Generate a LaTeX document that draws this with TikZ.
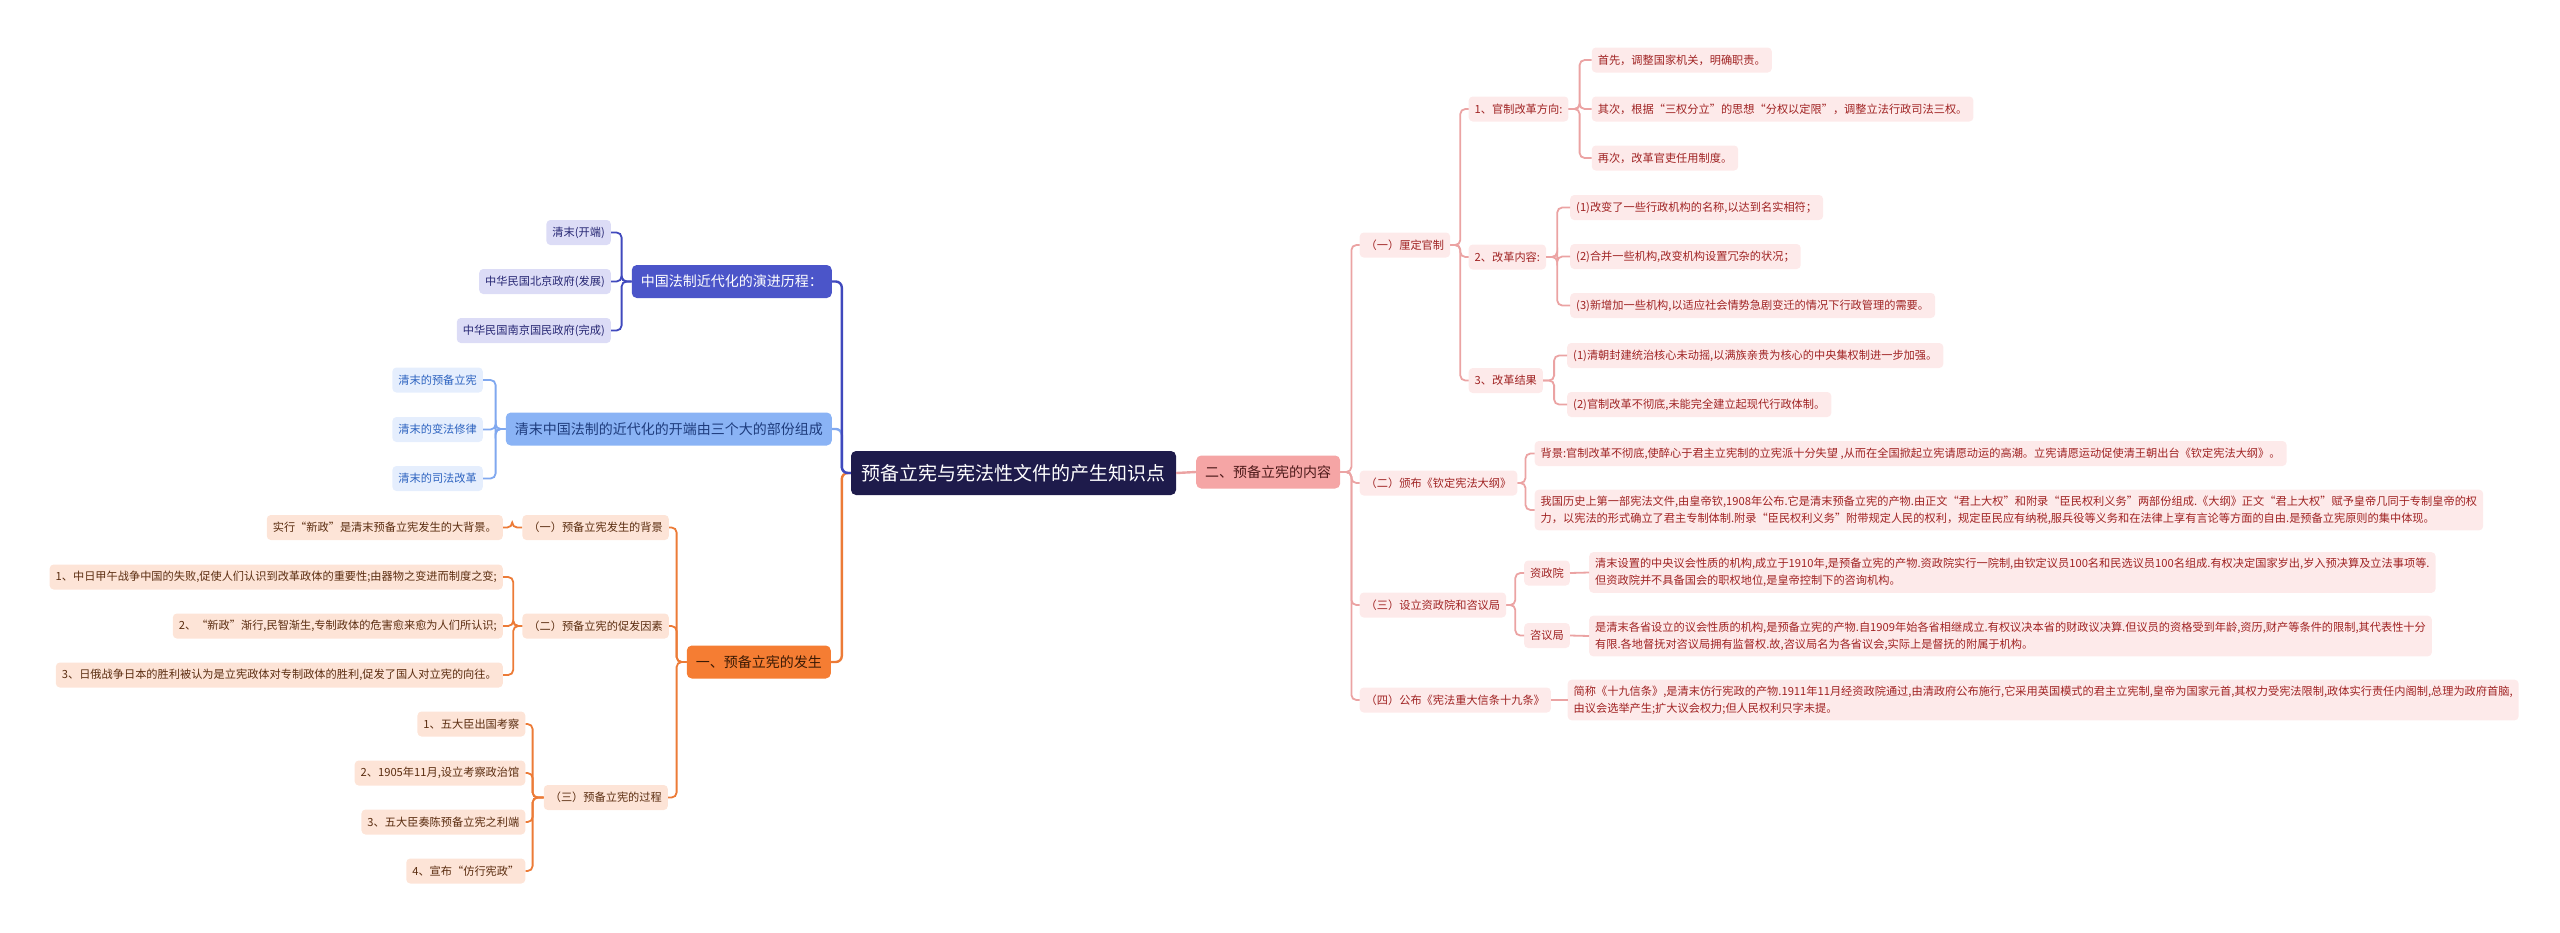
\documentclass[tikz,border=0pt]{standalone}
\usepackage{fontspec}
\newfontfamily\cjk{Noto Sans CJK SC}
\definecolor{rootc}{HTML}{1E1B4B}
\definecolor{b1fill}{HTML}{4B55C9}
\definecolor{b1line}{HTML}{4049BD}
\definecolor{b1lf}{HTML}{DCDCF6}
\definecolor{b1lt}{HTML}{262673}
\definecolor{b2fill}{HTML}{8AB3F5}
\definecolor{b2text}{HTML}{1E3C7D}
\definecolor{b2line}{HTML}{80A8EF}
\definecolor{b2lf}{HTML}{E5EEFD}
\definecolor{b2lt}{HTML}{2D63C0}
\definecolor{ofill}{HTML}{F57D33}
\definecolor{otext}{HTML}{3A1A05}
\definecolor{oline}{HTML}{EC7B37}
\definecolor{olf}{HTML}{FDE4D7}
\definecolor{olt}{HTML}{5B2D10}
\definecolor{pfill}{HTML}{F5A5A5}
\definecolor{ptext}{HTML}{4D1A1A}
\definecolor{pline}{HTML}{EBA3A3}
\definecolor{plf}{HTML}{FDEAEA}
\definecolor{plt}{HTML}{A02323}
\tikzset{
  box/.style={rounded corners=4, inner ysep=0pt, inner xsep=6, minimum height=25, align=left, font=\cjk\fontsize{11.2}{17}\selectfont},
  multi/.style={inner ysep=6},
  rootnode/.style={rounded corners=5, fill=rootc, text=white, font=\cjk\fontsize{19}{23}\selectfont, minimum height=44, minimum width=325},
  bignode/.style={rounded corners=5, minimum height=33, inner xsep=9, font=\cjk\fontsize{14}{17}\selectfont},
  b1node/.style={bignode, fill=b1fill, text=white},
  b2node/.style={bignode, fill=b2fill, text=b2text},
  onode/.style={bignode, fill=ofill, text=otext},
  pnode/.style={bignode, fill=pfill, text=ptext},
  b1leaf/.style={box, fill=b1lf, text=b1lt, anchor=east},
  b2leaf/.style={box, fill=b2lf, text=b2lt, anchor=east},
  oleaf/.style={box, fill=olf, text=olt, anchor=east},
  pleaf/.style={box, fill=plf, text=plt, anchor=west},
  elbow/.style={to path={-- ++(#1,0) |- (\tikztotarget)}},
  conn/.style={line width=1.8, rounded corners=5},
  mainconn/.style={line width=2.4, rounded corners=6},
}
\begin{document}
\begin{tikzpicture}[x=1pt,y=-1pt]
\useasboundingbox (0,0) rectangle (2560,932);

% root
\node[rootnode] (root) at (1013.5,473) {预备立宪与宪法性文件的产生知识点};

% ---------- left: blue 1
\node[b1node, anchor=east] (b1) at (832,281.5) {中国法制近代化的演进历程：};
\node[b1leaf] (b1a) at (611,232.5) {清末(开端)};
\node[b1leaf] (b1b) at (611,281.5) {中华民国北京政府(发展)};
\node[b1leaf] (b1c) at (611,330.5) {中华民国南京国民政府(完成)};

% ---------- left: blue 2
\node[b2node, anchor=east] (b2) at (832,429) {清末中国法制的近代化的开端由三个大的部份组成};
\node[b2leaf] (b2a) at (483,380) {清末的预备立宪};
\node[b2leaf] (b2b) at (483,429.5) {清末的变法修律};
\node[b2leaf] (b2c) at (483,478.5) {清末的司法改革};

% ---------- left: orange
\node[onode, anchor=east] (o) at (831,662) {一、预备立宪的发生};
\node[oleaf] (o1) at (669,527.5) {（一）预备立宪发生的背景};
\node[oleaf] (o2) at (669,626) {（二）预备立宪的促发因素};
\node[oleaf] (o3) at (668,797.5) {（三）预备立宪的过程};
\node[oleaf] (o1a) at (503,527.5) {实行“新政”是清末预备立宪发生的大背景。};
\node[oleaf] (o2a) at (503,577) {1、中日甲午战争中国的失败,促使人们认识到改革政体的重要性;由器物之变进而制度之变;};
\node[oleaf] (o2b) at (503,626) {2、“新政”渐行,民智渐生,专制政体的危害愈来愈为人们所认识;};
\node[oleaf] (o2c) at (503,675) {3、日俄战争日本的胜利被认为是立宪政体对专制政体的胜利,促发了国人对立宪的向往。};
\node[oleaf] (o3a) at (525.5,724) {1、五大臣出国考察};
\node[oleaf] (o3b) at (525.5,773) {2、1905年11月,设立考察政治馆};
\node[oleaf] (o3c) at (525.5,822) {3、五大臣奏陈预备立宪之利端};
\node[oleaf] (o3d) at (525.5,871) {4、宣布“仿行宪政”};

% ---------- right: pink
\node[pnode, anchor=west] (p) at (1196,472) {二、预备立宪的内容};
\node[pleaf] (p1) at (1359.5,245) {（一）厘定官制};
\node[pleaf] (p2) at (1359.5,483) {（二）颁布《钦定宪法大纲》};
\node[pleaf] (p3) at (1359.5,605) {（三）设立资政院和咨议局};
\node[pleaf] (p4) at (1359.5,700) {（四）公布《宪法重大信条十九条》};

\node[pleaf] (p11) at (1468.5,109) {1、官制改革方向:};
\node[pleaf] (p12) at (1468.5,257) {2、改革内容:};
\node[pleaf] (p13) at (1468.5,380.5) {3、改革结果};

\node[pleaf] (p111) at (1591.6,60) {首先，调整国家机关，明确职责。};
\node[pleaf] (p112) at (1591.6,109) {其次，根据“三权分立”的思想“分权以定限”，调整立法行政司法三权。};
\node[pleaf] (p113) at (1591.6,158) {再次，改革官吏任用制度。};

\node[pleaf] (p121) at (1570,207.5) {(1)改变了一些行政机构的名称,以达到名实相符；};
\node[pleaf] (p122) at (1570,256.5) {(2)合并一些机构,改变机构设置冗杂的状况；};
\node[pleaf] (p123) at (1570,305.5) {(3)新增加一些机构,以适应社会情势急剧变迁的情况下行政管理的需要。};

\node[pleaf] (p131) at (1567,355.5) {(1)清朝封建统治核心未动摇,以满族亲贵为核心的中央集权制进一步加强。};
\node[pleaf] (p132) at (1567,404.5) {(2)官制改革不彻底,未能完全建立起现代行政体制。};

\node[pleaf] (p21) at (1534.5,453.5) {背景:官制改革不彻底,使醉心于君主立宪制的立宪派十分失望 ,从而在全国掀起立宪请愿动运的高潮。立宪请愿运动促使清王朝出台《钦定宪法大纲》。};
\node[pleaf, multi] (p22) at (1534.5,510) {我国历史上第一部宪法文件,由皇帝钦,1908年公布.它是清末预备立宪的产物.由正文“君上大权”和附录“臣民权利义务”两部份组成.《大纲》正文“君上大权”赋予皇帝几同于专制皇帝的权\\力，以宪法的形式确立了君主专制体制.附录“臣民权利义务”附带规定人民的权利，规定臣民应有纳税,服兵役等义务和在法律上享有言论等方面的自由.是预备立宪原则的集中体现。};

\node[pleaf] (p31) at (1524,573) {资政院};
\node[pleaf] (p32) at (1524,635.5) {咨议局};
\node[pleaf, multi] (p311) at (1589,572.5) {清末设置的中央议会性质的机构,成立于1910年,是预备立宪的产物.资政院实行一院制,由钦定议员100名和民选议员100名组成.有权决定国家岁出,岁入预决算及立法事项等.\\但资政院并不具备国会的职权地位,是皇帝控制下的咨询机构。};
\node[pleaf, multi] (p321) at (1589,636) {是清末各省设立的议会性质的机构,是预备立宪的产物.自1909年始各省相继成立.有权议决本省的财政议决算.但议员的资格受到年龄,资历,财产等条件的限制,其代表性十分\\有限.各地督抚对咨议局拥有监督权.故,咨议局名为各省议会,实际上是督抚的附属于机构。};

\node[pleaf, multi] (p41) at (1567.5,700) {简称《十九信条》,是清末仿行宪政的产物.1911年11月经资政院通过,由清政府公布施行,它采用英国模式的君主立宪制,皇帝为国家元首,其权力受宪法限制,政体实行责任内阁制,总理为政府首脑,\\由议会选举产生;扩大议会权力;但人民权利只字未提。};

% ---------- connectors: left
\draw[mainconn, oline] (root.west) to[elbow=-9] (o.east);
\draw[mainconn, b2line] (root.west) to[elbow=-9] (b2.east);
\draw[mainconn, b1line] (root.west) to[elbow=-9] (b1.east);

\foreach \c in {b1a,b1b,b1c} \draw[conn, b1line] (b1.west) to[elbow=-10] (\c.east);
\foreach \c in {b2a,b2b,b2c} \draw[conn, b2line] (b2.west) to[elbow=-10] (\c.east);
\foreach \c in {o1,o2,o3} \draw[conn, oline] (o.west) to[elbow=-10] (\c.east);
\draw[conn, oline] (o1.west) to[elbow=-10] (o1a.east);
\foreach \c in {o2a,o2b,o2c} \draw[conn, oline] (o2.west) to[elbow=-9] (\c.east);
\foreach \c in {o3a,o3b,o3c,o3d} \draw[conn, oline] (o3.west) to[elbow=-11] (\c.east);

% ---------- connectors: right
\draw[mainconn, pline] (root.east) -- (p.west);
\foreach \c in {p1,p2,p3,p4} \draw[conn, pline] (p.east) to[elbow=11] (\c.west);
\foreach \c in {p11,p12,p13} \draw[conn, pline] (p1.east) to[elbow=10] (\c.west);
\foreach \c in {p111,p112,p113} \draw[conn, pline] (p11.east) to[elbow=11] (\c.west);
\foreach \c in {p121,p122,p123} \draw[conn, pline] (p12.east) to[elbow=11] (\c.west);
\foreach \c in {p131,p132} \draw[conn, pline] (p13.east) to[elbow=11] (\c.west);
\foreach \c in {p21,p22} \draw[conn, pline] (p2.east) to[elbow=8] (\c.west);
\foreach \c in {p31,p32} \draw[conn, pline] (p3.east) to[elbow=9] (\c.west);
\draw[conn, pline] (p31.east) -- (p311.west);
\draw[conn, pline] (p32.east) -- (p321.west);
\draw[conn, pline] (p4.east) -- (p41.west);
\end{tikzpicture}
\end{document}
